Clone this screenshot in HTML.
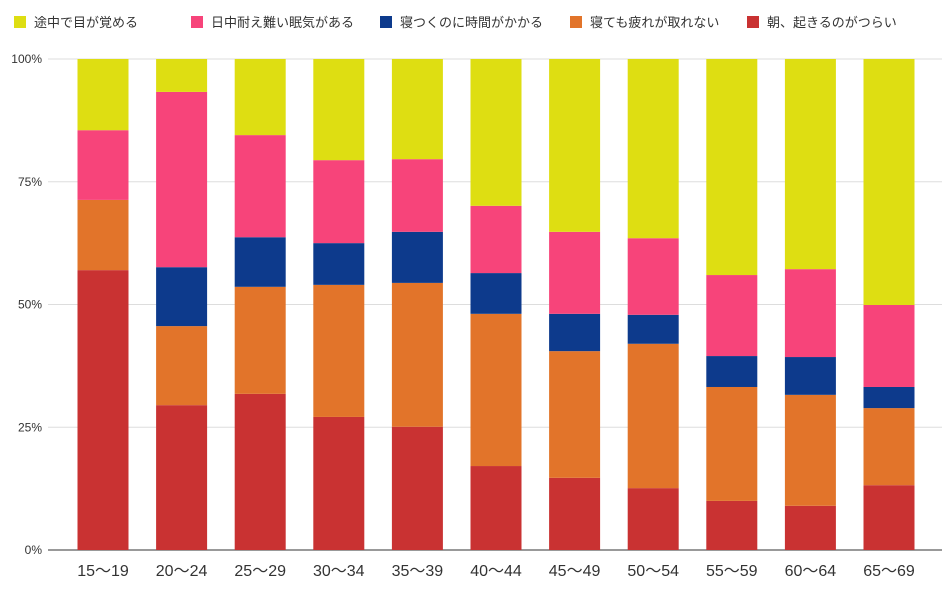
<!DOCTYPE html>
<html><head><meta charset="utf-8"><style>
body{margin:0;background:#fff;font-family:"Liberation Sans","Noto Sans CJK JP",sans-serif;}
svg text{font-family:"Liberation Sans","Noto Sans CJK JP",sans-serif;}
</style></head><body>
<svg id="chart" width="950" height="590"></svg>
<script>
const categories=["15〜19","20〜24","25〜29","30〜34","35〜39","40〜44","45〜49","50〜54","55〜59","60〜64","65〜69"];
const seriesNames=["朝、起きるのがつらい","寝ても疲れが取れない","寝つくのに時間がかかる","日中耐え難い眠気がある","途中で目が覚める"];
const redVals=[57.0,29.5,31.8,27.1,25.1,17.1,14.7,12.6,10.0,9.0,13.2];
const orangeVals=[14.3,16.1,21.8,26.9,29.3,31.0,25.8,29.4,23.2,22.6,15.7];
const blueVals=[0,12.0,10.1,8.5,10.4,8.3,7.6,5.9,6.3,7.7,4.3];
const pinkVals=[14.2,35.7,20.8,16.9,14.8,13.7,16.7,15.6,16.5,17.9,16.7];
const yellowVals=[14.5,6.7,15.5,20.6,20.4,29.9,35.2,36.5,44.0,42.8,50.1];
const tickVals=[0,25,50,75,100];
const tickLabels=["0%","25%","50%","75%","100%"];

const colors=["#c93232","#e2742a","#0d3a8c","#f7447a","#dede12"];
const NS="http://www.w3.org/2000/svg";
const svg=document.getElementById("chart");
const L=48,R=942,T=59,B=550;
const y=v=>B-(B-T)*v/100;
const step=78.6;
const x=i=>103+step*i;
const bw=51;
function mk(tag,attrs,parent){const e=document.createElementNS(NS,tag);for(const k in attrs)e.setAttribute(k,attrs[k]);(parent||svg).appendChild(e);return e;}

tickVals.forEach((t,i)=>{
  const g=mk("line",{x1:L,x2:R,y1:y(t),y2:y(t),stroke:t===0?"#333":"#ddd","stroke-width":1});
  
  
  const tx=mk("text",{x:L-6,y:y(t)+4,"text-anchor":"end","font-size":12,fill:"#333"});
  tx.textContent=tickLabels[i];
  
  
});

const series=[redVals,orangeVals,blueVals,pinkVals,yellowVals];
categories.forEach((c,i)=>{
  let acc=0;
  series.forEach((s,k)=>{
    const v=s[i];
    const r=mk("rect",{x:x(i)-bw/2,y:y(acc+v),width:bw,height:y(acc)-y(acc+v),fill:colors[k]});
    
    
    acc+=v;
  });
  const tx=mk("text",{x:x(i),y:576,"text-anchor":"middle","font-size":16,fill:"#333"});
  tx.textContent=c;
  
  
});

const legX=[14,191,380,570,747];
const legOrder=[4,3,2,1,0];
legOrder.forEach((k,j)=>{
  const g=mk("g",{});
  
  
  mk("rect",{x:legX[j],y:16,width:12,height:12,fill:colors[k]},g);
  const t=mk("text",{x:legX[j]+20,y:27,"font-size":13,fill:"#333"},g);
  t.textContent=seriesNames[k];
});
</script>
</body></html>
